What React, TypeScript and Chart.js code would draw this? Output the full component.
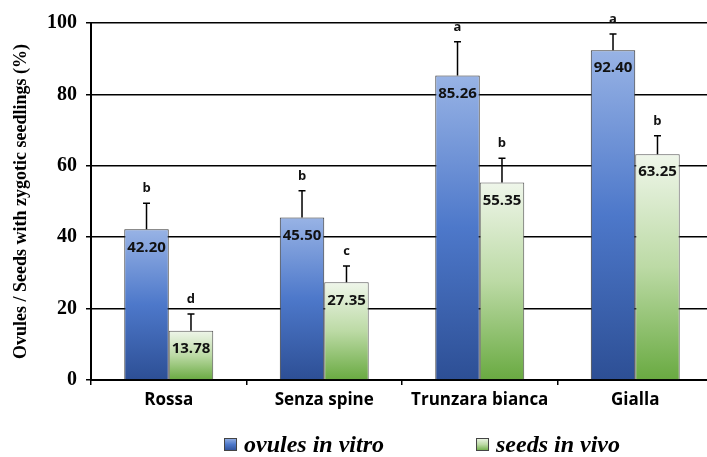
import React, { useEffect, useRef } from "react";
import { Chart, registerables } from "chart.js";

Chart.register(...registerables);

const categories = ["Rossa", "Senza spine", "Trunzara bianca", "Gialla"];
const seriesNames = ["ovules in vitro", "seeds in vivo"];
const vitroValues = [42.2, 45.5, 85.26, 92.4];
const vivoValues = [13.78, 27.35, 55.35, 63.25];
const vitroErrors = [7.3, 7.5, 9.5, 4.5];
const vivoErrors = [4.7, 4.55, 6.75, 5.2];
const vitroLetters = ["b", "b", "a", "a"];
const vivoLetters = ["d", "c", "b", "b"];
const yTicks = [0, 20, 40, 60, 80, 100];
const yTitle = "Ovules / Seeds with zygotic seedlings (%)";

const blueStops = ["#98b3e5", "#4d78ca", "#2d4f95"];
const greenStops = ["#eff6ea", "#bcdaa5", "#69aa41"];

const SERIF = "'Liberation Serif', 'Times New Roman', serif";
const SANS = "'Open Sans', Lato, sans-serif";

function fillStops(g: CanvasGradient, stops: string[]) {
  stops.forEach((c, i) => g.addColorStop(i / (stops.length - 1), c));
  return g;
}

function barGradient(stops: string[]) {
  return (ctx: any) => {
    const chart = ctx.chart;
    const y = chart.scales?.y;
    if (ctx.type !== "data" || !y) return stops[1];
    const v = ctx.raw as number;
    const top = y.getPixelForValue(v);
    const bottom = y.getPixelForValue(0);
    if (!isFinite(top) || !isFinite(bottom) || Math.abs(bottom - top) < 1) return stops[1];
    const g = chart.ctx.createLinearGradient(0, top, 0, bottom);
    return fillStops(g, stops);
  };
}

const errors = [vitroErrors, vivoErrors];
const letters = [vitroLetters, vivoLetters];

const annotPlugin = {
  id: "annot",
  afterDatasetsDraw(chart: any) {
    const ctx = chart.ctx as CanvasRenderingContext2D;
    const yScale = chart.scales.y;
    ctx.save();
    chart.data.datasets.forEach((ds: any, i: number) => {
      const meta = chart.getDatasetMeta(i);
      meta.data.forEach((bar: any, j: number) => {
        const v = ds.data[j] as number;
        const x = bar.x;
        const top = yScale.getPixelForValue(v);
        const yEnd = yScale.getPixelForValue(v + errors[i][j]);
        ctx.strokeStyle = "#000";
        ctx.lineWidth = 1.5;
        ctx.beginPath();
        ctx.moveTo(x, top);
        ctx.lineTo(x, yEnd);
        ctx.moveTo(x - 3.5, yEnd);
        ctx.lineTo(x + 3.5, yEnd);
        ctx.stroke();
        ctx.fillStyle = "#111";
        ctx.font = `bold 13px ${SANS}`;
        ctx.textAlign = "center";
        ctx.textBaseline = "alphabetic";
        ctx.fillText(letters[i][j], x, yEnd - 11);
        ctx.font = `bold 15px ${SANS}`;
        ctx.textBaseline = "middle";
        ctx.fillText(v.toFixed(2), x, top + 18);
      });
    });
    ctx.restore();
  },
  afterDraw(chart: any) {
    const ctx = chart.ctx as CanvasRenderingContext2D;
    ctx.save();
    ctx.font = `italic bold 24px ${SERIF}`;
    ctx.textBaseline = "alphabetic";
    ctx.textAlign = "left";
    const box = 13;
    const gap = 7;
    const itemGap = 92;
    const widths = seriesNames.map((n) => ctx.measureText(n).width);
    const total = widths.reduce((a, w) => a + box + gap + w, 0) + itemGap * (seriesNames.length - 1);
    let x = 422 - total / 2;
    const baseline = 452;
    const stopsArr = [blueStops, greenStops];
    seriesNames.forEach((name, i) => {
      const by = 438;
      const g = ctx.createLinearGradient(0, by, 0, by + box);
      fillStops(g, stopsArr[i]);
      ctx.fillStyle = g;
      ctx.fillRect(x, by, box, box);
      ctx.strokeStyle = "#444";
      ctx.lineWidth = 1;
      ctx.strokeRect(x + 0.5, by + 0.5, box - 1, box - 1);
      ctx.fillStyle = "#000";
      ctx.fillText(name, x + box + gap, baseline);
      x += box + gap + widths[i] + itemGap;
    });
    ctx.restore();
  },
};

export default function App() {
  const ref = useRef<HTMLCanvasElement | null>(null);
  useEffect(() => {
    if (!ref.current) return;
    const chart = new Chart(ref.current, {
      type: "bar",
      data: {
        labels: categories,
        datasets: [
          {
            label: seriesNames[0],
            data: vitroValues,
            backgroundColor: barGradient(blueStops) as any,
            borderColor: "#333",
            borderWidth: 1,
            categoryPercentage: 0.572,
            barPercentage: 1,
          },
          {
            label: seriesNames[1],
            data: vivoValues,
            backgroundColor: barGradient(greenStops) as any,
            borderColor: "#555",
            borderWidth: 1,
            categoryPercentage: 0.572,
            barPercentage: 1,
          },
        ],
      },
      options: {
        responsive: false,
        animation: false,
        layout: { padding: { top: 23, right: 9, left: 0, bottom: 0 } },
        plugins: { legend: { display: false }, tooltip: { enabled: false } },
        scales: {
          x: {
            grid: {
              display: true,
              drawOnChartArea: false,
              drawTicks: true,
              tickLength: 5,
              color: "#000",
              lineWidth: 1.5,
              offset: true,
            },
            border: { display: true, color: "#000", width: 2 },
            ticks: { color: "#000", font: { family: SANS, weight: "bold", size: 17 }, padding: 5 },
            afterFit: (s: any) => {
              s.height = 77;
            },
          },
          y: {
            min: 0,
            max: 100,
            afterBuildTicks: (s: any) => {
              s.ticks = yTicks.map((v) => ({ value: v }));
            },
            ticks: { color: "#000", font: { family: SERIF, weight: "bold", size: 20 }, padding: 9 },
            grid: { color: "#000", lineWidth: 1.5, tickLength: 5 },
            border: { color: "#000", width: 2 },
            title: {
              display: true,
              text: yTitle,
              color: "#000",
              font: { family: SERIF, weight: "bold", size: 18 },
              padding: { top: 11, bottom: 0 },
            },
            afterFit: (s: any) => {
              s.width = 91;
            },
          },
        },
      },
      plugins: [annotPlugin],
    });
    return () => chart.destroy();
  }, []);
  return (
    <div style={{ position: "fixed", left: 0, top: 0, width: 707, height: 457, overflow: "hidden", background: "#fff" }}>
      <canvas ref={ref} width={722} height={457} style={{ display: "block", width: 722, height: 457 }} />
    </div>
  );
}
